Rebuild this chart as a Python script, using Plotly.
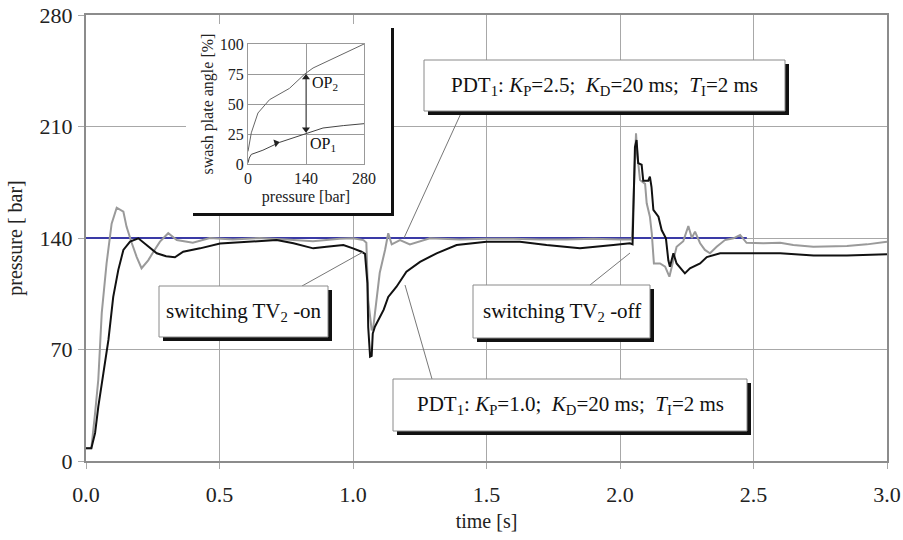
import plotly.graph_objects as go

# ---------------- data ----------------
# PDT1: KP=2.5 (grey)
t_kp25 = [0, 0.02, 0.034, 0.046, 0.059, 0.077, 0.096, 0.115, 0.14, 0.152, 0.171, 0.19, 0.208, 0.233,
          0.255, 0.277, 0.308, 0.34, 0.4, 0.464, 0.55, 0.65, 0.75, 0.85, 0.95, 1.0, 1.039, 1.05, 1.057,
          1.064, 1.07, 1.076, 1.089, 1.1, 1.12, 1.132, 1.145, 1.176, 1.213, 1.288, 1.4, 1.5, 1.6, 1.7,
          1.8, 1.9, 2.0, 2.045, 2.05, 2.06, 2.065, 2.075, 2.094, 2.1, 2.112, 2.119, 2.127, 2.15, 2.169,
          2.185, 2.194, 2.212, 2.237, 2.256, 2.269, 2.281, 2.3, 2.318, 2.337, 2.362, 2.393, 2.425, 2.45,
          2.474, 2.537, 2.6, 2.649, 2.724, 2.85, 2.925, 3.0]
p_kp25 = [8, 8, 30, 51, 93, 124, 149, 159, 156.5, 147, 137, 128, 121, 126,
          132, 137.7, 143, 138.7, 137, 140, 139, 140, 139, 138, 139.5, 139.8, 138.7, 137, 101,
          88, 82, 84, 101, 118, 132.5, 143, 136, 138.7, 136, 139.8, 139, 139.5, 139.5, 139,
          139, 139.5, 139, 139, 161.8, 205.7, 192, 176.4, 174, 161.8, 153.4, 143, 124, 124, 122,
          115.7, 122, 134.5, 138, 147.5, 140, 144, 136.7, 132.5, 130.4, 134.5, 138.7, 139.8, 141.9,
          137, 136.7, 137, 135.6, 134.5, 135, 136, 137.7]

# PDT1: KP=1.0 (black)
t_kp10 = [0, 0.02, 0.034, 0.046, 0.065, 0.084, 0.102, 0.121, 0.14, 0.165, 0.196, 0.227, 0.265, 0.3,
          0.333, 0.364, 0.427, 0.502, 0.602, 0.714, 0.777, 0.851, 0.901, 0.964, 1.0, 1.032, 1.045,
          1.054, 1.057, 1.064, 1.07, 1.074, 1.082, 1.1, 1.115, 1.132, 1.163, 1.2, 1.251, 1.313, 1.388,
          1.5, 1.625, 1.725, 1.85, 1.975, 2.037, 2.047, 2.052, 2.056, 2.062, 2.068, 2.081, 2.087, 2.106,
          2.112, 2.118, 2.125, 2.144, 2.156, 2.172, 2.181, 2.187, 2.2, 2.212, 2.243, 2.262, 2.3, 2.325,
          2.375, 2.475, 2.6, 2.725, 2.85, 3.0]
p_kp10 = [8, 8, 17.6, 34, 55, 76, 103, 120, 132.5, 137.7, 139.8, 135.6, 130.4, 128.5,
          127.9, 131.4, 133.5, 136.6, 137.7, 138.7, 136.7, 133.5, 134.5, 135.6, 133.5, 131.4, 130,
          111.7, 84, 65.5, 66, 80, 84.3, 90.6, 95, 103, 109.4, 118.8, 125, 130.4, 135.6,
          137.7, 137.7, 135.6, 133.5, 135.6, 136.7, 136, 172, 197, 201.5, 187, 186, 176, 176,
          178.5, 172, 157.6, 153.4, 145, 139.8, 126, 122, 130.4, 124, 117.8, 121, 124, 128,
          130.4, 130.4, 130.4, 129, 129, 129.8]

# set point (blue)
t_set = [0, 2.475]
p_set = [140, 140]

# inset: swash plate angle vs pressure
ins_p_up = [0, 8, 24, 52, 100, 137, 157, 200, 240, 280]
ins_a_up = [10.5, 26, 42.5, 53.6, 63, 75, 80, 87, 93, 100]
ins_p_lo = [0, 3, 8, 36, 76, 137, 181, 230, 280]
ins_a_lo = [1, 5, 8, 11.5, 18, 25, 30, 32, 33.6]
ins_op_p = [140, 140]
ins_op_a = [27, 74]

x_ticks = [0, 0.5, 1.0, 1.5, 2.0, 2.5, 3.0]
x_ticklabels = ["0.0", "0.5", "1.0", "1.5", "2.0", "2.5", "3.0"]
y_ticks = [0, 70, 140, 210, 280]
ins_x_ticks = [0, 140, 280]
ins_y_ticks = [0, 25, 50, 75, 100]

# ---------------- layout helpers (pixel -> main axis coords) ----------------
W, H = 903, 540
PL, PR, PT, PB = 86, 887, 15, 461


def tx(px):
    return (px - PL) / (PR - PL) * 3.0


def py(y):
    return (PB - y) / (PB - PT) * 280.0


FONT = "Liberation Serif"
GRID = "#a8a8a8"

fig = go.Figure()

fig.add_trace(go.Scatter(x=t_set, y=p_set, mode="lines",
                         line=dict(color="#3a3aa6", width=2), showlegend=False, hoverinfo="skip"))
fig.add_trace(go.Scatter(x=t_kp25, y=p_kp25, mode="lines",
                         line=dict(color="#9a9a9a", width=2), showlegend=False))
fig.add_trace(go.Scatter(x=t_kp10, y=p_kp10, mode="lines",
                         line=dict(color="#111111", width=2), showlegend=False))

# inset traces
fig.add_trace(go.Scatter(x=ins_p_up, y=ins_a_up, mode="lines", xaxis="x2", yaxis="y2",
                         line=dict(color="#666666", width=1), showlegend=False))
fig.add_trace(go.Scatter(x=ins_p_lo, y=ins_a_lo, mode="lines", xaxis="x2", yaxis="y2",
                         line=dict(color="#444444", width=1), showlegend=False))
fig.add_trace(go.Scatter(x=ins_op_p, y=ins_op_a, mode="lines", xaxis="x2", yaxis="y2",
                         line=dict(color="#444444", width=1), showlegend=False))
fig.add_trace(go.Scatter(x=[140, 140, 68], y=[72, 29, 17.5], mode="markers", xaxis="x2", yaxis="y2",
                         marker=dict(symbol=["triangle-up", "triangle-down", "triangle-right"],
                                     size=7, color="#222222", angle=[0, 0, -15]),
                         showlegend=False))

shapes = []
# inset white panel with black shadow
shapes.append(dict(type="rect", xref="x", yref="y", layer="between",
                   x0=tx(193), x1=tx(394), y0=py(216), y1=py(28),
                   fillcolor="#111111", line=dict(width=0)))
shapes.append(dict(type="rect", xref="x", yref="y", layer="between",
                   x0=tx(186), x1=tx(391), y0=py(213), y1=py(24),
                   fillcolor="white", line=dict(width=0)))

# annotation boxes (pixel coords: left, top, right, bottom)
boxes = [
    (424, 60, 785, 111, "PDT<sub>1</sub>: <i>K</i><sub>P</sub>=2.5;  <i>K</i><sub>D</sub>=20 ms;  <i>T</i><sub>I</sub>=2 ms"),
    (159, 286, 328, 337, "switching TV<sub>2</sub> -on"),
    (473, 285, 650, 338, "switching TV<sub>2</sub> -off"),
    (393, 379, 747, 431, "PDT<sub>1</sub>: <i>K</i><sub>P</sub>=1.0;  <i>K</i><sub>D</sub>=20 ms;  <i>T</i><sub>I</sub>=2 ms"),
]
leaders = [
    (462, 111, 404, 238),
    (302, 286, 363, 252),
    (590, 285, 630, 253),
    (432, 379, 405, 285),
]
for (x0, y0, x1, y1) in leaders:
    shapes.append(dict(type="line", xref="x", yref="y", layer="above",
                       x0=tx(x0), y0=py(y0), x1=tx(x1), y1=py(y1),
                       line=dict(color="#777777", width=1)))

annotations = []
for (l, tp, r, b, txt) in boxes:
    shapes.append(dict(type="rect", xref="x", yref="y", layer="above",
                       x0=tx(l + 4), x1=tx(r + 4), y0=py(b + 4), y1=py(tp + 4),
                       fillcolor="#111111", line=dict(width=0)))
    shapes.append(dict(type="rect", xref="x", yref="y", layer="above",
                       x0=tx(l), x1=tx(r), y0=py(b), y1=py(tp),
                       fillcolor="white", line=dict(color="#8a8a8a", width=1)))
    annotations.append(dict(xref="x", yref="y", x=tx((l + r) / 2), y=py((tp + b) / 2),
                            text=txt, showarrow=False, xanchor="center", yanchor="middle",
                            font=dict(family=FONT, size=21, color="#111111")))

# inset labels
annotations.append(dict(xref="x2", yref="y2", x=150, y=67, text="OP<sub>2</sub>", showarrow=False,
                        xanchor="left", yanchor="middle", font=dict(family=FONT, size=16, color="#111")))
annotations.append(dict(xref="x2", yref="y2", x=146, y=16, text="OP<sub>1</sub>", showarrow=False,
                        xanchor="left", yanchor="middle", font=dict(family=FONT, size=16, color="#111")))

# inset domain from pixels
ix0, ix1, iy0, iy1 = 248, 364, 44, 164
dom_x = [(ix0 - PL) / (PR - PL), (ix1 - PL) / (PR - PL)]
dom_y = [(PB - iy1) / (PB - PT), (PB - iy0) / (PB - PT)]

fig.update_layout(
    width=W, height=H,
    margin=dict(l=PL, r=W - PR, t=PT, b=H - PB, autoexpand=False),
    paper_bgcolor="white", plot_bgcolor="white",
    font=dict(family=FONT, size=17, color="#222222"),
    showlegend=False,
    shapes=shapes,
    annotations=annotations,
    xaxis=dict(range=[0, 3], tickvals=x_ticks, ticktext=x_ticklabels, automargin=False,
               showgrid=True, gridcolor=GRID, gridwidth=1,
               showline=True, linecolor="#8c8c8c", linewidth=2, mirror=True,
               ticks="outside", ticklen=6, tickcolor=GRID, ticklabelstandoff=7,
               zeroline=False, tickfont=dict(size=22),
               title=dict(text="time [s]", font=dict(size=20), standoff=8)),
    yaxis=dict(range=[0, 280], tickvals=y_ticks, automargin=False,
               showgrid=True, gridcolor=GRID, gridwidth=1,
               showline=True, linecolor="#8c8c8c", linewidth=2, mirror=True,
               ticks="outside", ticklen=6, tickcolor=GRID, ticklabelstandoff=1,
               zeroline=False, tickfont=dict(size=22),
               title=dict(text="pressure [ bar]", font=dict(size=20), standoff=12)),
    xaxis2=dict(domain=dom_x, anchor="y2", range=[0, 280], tickvals=ins_x_ticks, automargin=False,
                showgrid=True, gridcolor="#999999", gridwidth=1,
                showline=True, linecolor="#999999", linewidth=1, mirror=True,
                ticks="", zeroline=False, tickfont=dict(size=16),
                title=dict(text="pressure [bar]", font=dict(size=16), standoff=4)),
    yaxis2=dict(domain=dom_y, anchor="x2", range=[0, 100], tickvals=ins_y_ticks, automargin=False,
                showgrid=True, gridcolor="#999999", gridwidth=1,
                showline=True, linecolor="#999999", linewidth=1, mirror=True,
                ticks="", zeroline=False, tickfont=dict(size=16),
                title=dict(text="swash plate angle [%]", font=dict(size=16), standoff=2)),
)

fig.write_html("out.html", config={"displayModeBar": False},
               post_script="document.body.style.margin='0';")
